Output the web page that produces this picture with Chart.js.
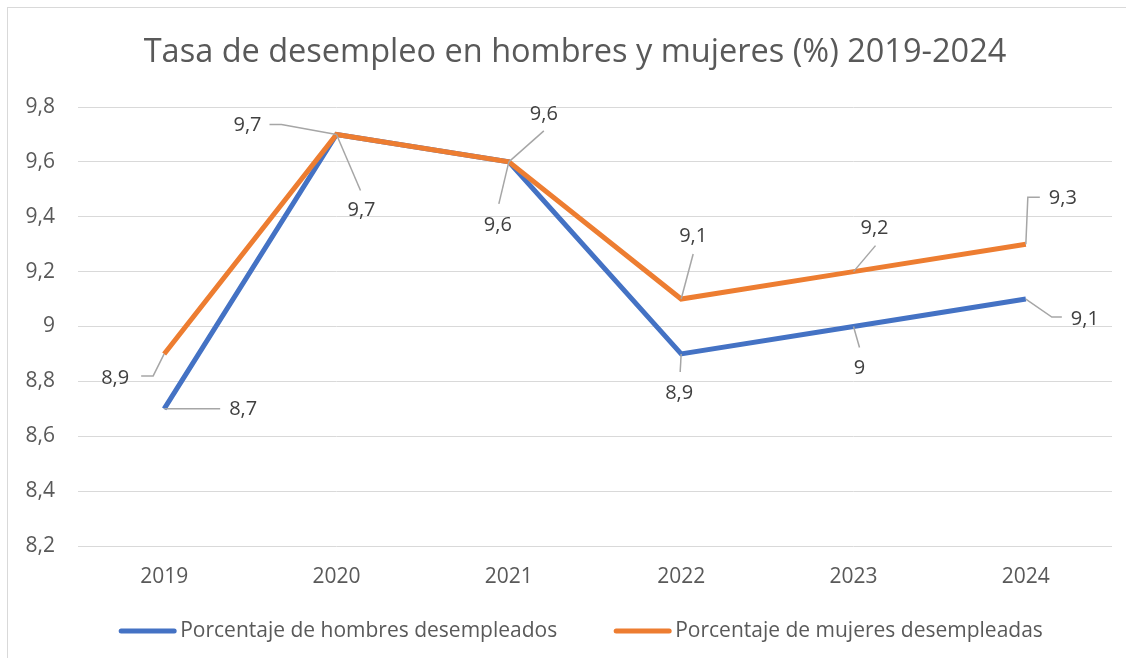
<!DOCTYPE html>
<html>
<head>
<meta charset="utf-8">
<script src="https://cdn.jsdelivr.net/npm/chart.js@4"></script>
<style>
  html, body { margin: 0; padding: 0; background: #fff; overflow: hidden; }
  #box { position: absolute; left: 7px; top: 7px; width: 1118px; height: 650px; border-left: 1px solid #d9d9d9; border-top: 1px solid #d9d9d9; }
</style>
</head>
<body>
<div id="box"><canvas id="grafico" width="1118" height="650"></canvas></div>
<script>
// datos
const years = ["2019", "2020", "2021", "2022", "2023", "2024"];
const hombres = [8.7, 9.7, 9.6, 8.9, 9.0, 9.1];
const mujeres = [8.9, 9.7, 9.6, 9.1, 9.2, 9.3];
const seriesNames = ["Porcentaje de hombres desempleados", "Porcentaje de mujeres desempleadas"];
const titulo = "Tasa de desempleo en hombres y mujeres (%) 2019-2024";

function fmt(v) {
  const r = Math.round(v * 10) / 10;
  return String(r).replace(".", ",");
}

// etiquetas con linea guia: [dx, dy, puntos de la linea]
const leaderPlugin = {
  id: "leaderLabels",
  afterDatasetsDraw(chart, args, opts) {
    const ctx = chart.ctx;
    ctx.save();
    chart.data.datasets.forEach((ds, di) => {
      const meta = chart.getDatasetMeta(di);
      const pos = opts.positions[di];
      meta.data.forEach((pt, i) => {
        const p = pos[i];
        ctx.strokeStyle = "#a6a6a6";
        ctx.lineWidth = 1.5;
        ctx.beginPath();
        ctx.moveTo(pt.x, pt.y);
        p[2].forEach(l => ctx.lineTo(pt.x + l[0], pt.y + l[1]));
        ctx.stroke();
        ctx.fillStyle = "#404040";
        ctx.font = "20px 'Open Sans'";
        ctx.textAlign = "center";
        ctx.textBaseline = "middle";
        ctx.fillText(fmt(ds.data[i]), pt.x + p[0], pt.y + p[1]);
      });
    });
    ctx.restore();
  }
};

// titulo y leyenda al estilo de Excel (linea + texto)
const excelFrame = {
  id: "excelFrame",
  afterDraw(chart, args, opts) {
    const ctx = chart.ctx;
    ctx.save();
    ctx.textBaseline = "middle";
    ctx.fillStyle = "#595959";
    ctx.font = "32.5px 'Open Sans'";
    ctx.textAlign = "center";
    ctx.fillText(opts.title, opts.titleX, opts.titleY);

    ctx.font = "21px 'Open Sans'";
    ctx.textAlign = "left";
    const items = chart.data.datasets.map(ds => ({
      text: ds.label, color: ds.borderColor, w: ctx.measureText(ds.label).width
    }));
    let total = 0;
    items.forEach((it, i) => { total += opts.lineLen + opts.textGap + it.w + (i ? opts.itemGap : 0); });
    let x = opts.legendX - total / 2;
    items.forEach(it => {
      ctx.strokeStyle = it.color;
      ctx.lineWidth = 5;
      ctx.lineCap = "round";
      ctx.beginPath();
      ctx.moveTo(x + 2, opts.legendY);
      ctx.lineTo(x + opts.lineLen - 2, opts.legendY);
      ctx.stroke();
      ctx.fillStyle = "#595959";
      ctx.fillText(it.text, x + opts.lineLen + opts.textGap, opts.legendY);
      x += opts.lineLen + opts.textGap + it.w + opts.itemGap;
    });
    ctx.restore();
  }
};

new Chart(document.getElementById("grafico"), {
  type: "line",
  data: {
    labels: years,
    datasets: [
      {
        label: seriesNames[0],
        data: hombres,
        borderColor: "#4472c4",
        backgroundColor: "#4472c4",
        borderWidth: 5,
        pointRadius: 0,
        order: 1
      },
      {
        label: seriesNames[1],
        data: mujeres,
        borderColor: "#ed7d31",
        backgroundColor: "#ed7d31",
        borderWidth: 5,
        pointRadius: 0,
        order: 0
      }
    ]
  },
  options: {
    responsive: false,
    animation: false,
    layout: { padding: { left: 0, right: 14, top: 99, bottom: 67 } },
    scales: {
      x: {
        offset: true,
        grid: { display: false, drawTicks: false },
        border: { display: false },
        ticks: { padding: 18, color: "#595959", font: { family: "'Open Sans'", size: 21 } },
        afterFit(scale) { scale.height = 45; }
      },
      y: {
        min: 8.2,
        max: 9.8,
        grid: { color: "#d9d9d9", lineWidth: 1, drawTicks: false },
        border: { display: false },
        ticks: {
          stepSize: 0.2,
          padding: 23,
          color: "#595959",
          font: { family: "'Open Sans'", size: 21 },
          callback: v => fmt(v)
        },
        afterFit(scale) { scale.width = 70; }
      }
    },
    plugins: {
      title: { display: false },
      legend: { display: false },
      tooltip: { enabled: false },
      excelFrame: {
        title: titulo, titleX: 567, titleY: 45,
        legendX: 573, legendY: 623, lineLen: 57, textGap: 4, itemGap: 57
      },
      leaderLabels: {
        positions: [
          [
            [79, 0, [[56, 0]]],
            [25, 76, [[24, 56]]],
            [-11, 63, [[-10, 42]]],
            [-2, 39, [[-1, 18]]],
            [6, 42, [[6, 21]]],
            [59, 20, [[26, 18], [36, 18]]]
          ],
          [
            [-49, 24, [[-11, 22], [-23, 22]]],
            [-89, -9, [[-55, -10], [-67, -10]]],
            [35, -48, [[35, -31]]],
            [12, -63, [[12, -45]]],
            [21, -43, [[22, -26]]],
            [37, -46, [[2, -47], [14, -47]]]
          ]
        ]
      }
    }
  },
  plugins: [leaderPlugin, excelFrame]
});
</script>
</body>
</html>
